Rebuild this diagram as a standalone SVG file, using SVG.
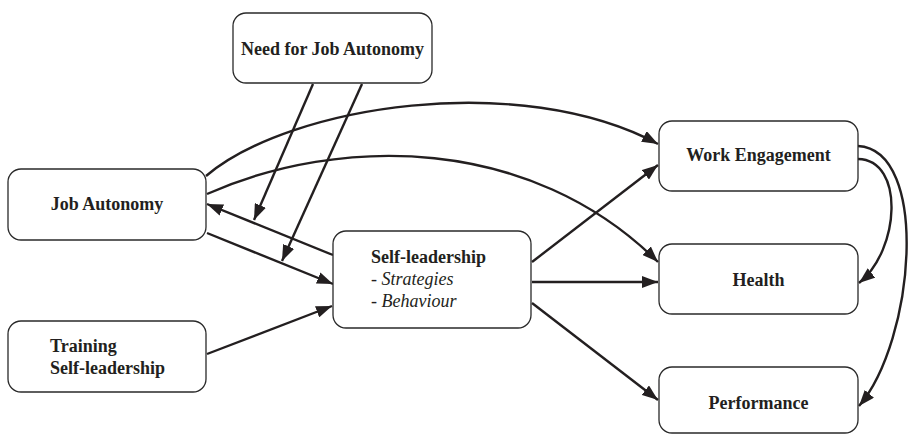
<svg xmlns="http://www.w3.org/2000/svg" width="912" height="435" viewBox="0 0 912 435">
  <style>
    .box { fill: #ffffff; stroke: #2a2a2a; stroke-width: 1.3; }
    .lbl { font-family: "Liberation Serif", "Times New Roman", serif; font-size: 18px; font-weight: bold; fill: #231f20; }
    .it { font-family: "Liberation Serif", "Times New Roman", serif; font-size: 18px; font-style: italic; fill: #231f20; }
    .edge { fill: none; stroke: #231f20; stroke-width: 2.4; marker-end: url(#head); }
  </style>
  <defs>
    <marker id="head" markerUnits="userSpaceOnUse" markerWidth="16" markerHeight="12" refX="16" refY="6" orient="auto">
      <path d="M0,0 L16,6 L0,12 z" fill="#231f20"/>
    </marker>
  </defs>
  <rect width="912" height="435" fill="#ffffff"/>

  <g id="connectors">
    <!-- moderator arrows -->
    <path class="edge" d="M313,84 L254,220"/>
    <path class="edge" d="M362,84 L282,261"/>
    <!-- job autonomy <-> self-leadership -->
    <path class="edge" d="M333,255 L207,204"/>
    <path class="edge" d="M207,233 L333,284"/>
    <!-- training -> self-leadership -->
    <path class="edge" d="M207,354 L332,306"/>
    <!-- job autonomy -> outcomes -->
    <path class="edge" d="M206,176 C290,105 520,70 658,144"/>
    <path class="edge" d="M207,194 C340,135 530,135 658,262"/>
    <!-- self-leadership -> outcomes -->
    <path class="edge" d="M532,262 L658,165"/>
    <path class="edge" d="M532,282 L658,282"/>
    <path class="edge" d="M532,303 L658,400"/>
    <!-- work engagement -> health, performance -->
    <path class="edge" d="M858,159 C905,160 900,250 859,283"/>
    <path class="edge" d="M858,146 C930,150 915,340 859,406"/>
  </g>

  <g id="need-autonomy">
    <rect class="box" x="233" y="13" width="199" height="70" rx="13"/>
    <text class="lbl" x="332.5" y="55" text-anchor="middle">Need for Job Autonomy</text>
  </g>
  <g id="job-autonomy">
    <rect class="box" x="8" y="169" width="198" height="71" rx="13"/>
    <text class="lbl" x="107" y="210" text-anchor="middle">Job Autonomy</text>
  </g>
  <g id="training">
    <rect class="box" x="8" y="321" width="198" height="71" rx="13"/>
    <text class="lbl" x="50" y="352">Training</text>
    <text class="lbl" x="50" y="374">Self-leadership</text>
  </g>
  <g id="self-leadership">
    <rect class="box" x="333" y="231" width="198" height="97" rx="13"/>
    <text class="lbl" x="371" y="263">Self-leadership</text>
    <text class="it" x="371" y="285">- Strategies</text>
    <text class="it" x="371" y="307">- Behaviour</text>
  </g>
  <g id="work-engagement">
    <rect class="box" x="659" y="121" width="199" height="70" rx="13"/>
    <text class="lbl" x="758.5" y="161" text-anchor="middle">Work Engagement</text>
  </g>
  <g id="health">
    <rect class="box" x="659" y="244" width="199" height="70" rx="13"/>
    <text class="lbl" x="758.5" y="286" text-anchor="middle">Health</text>
  </g>
  <g id="performance">
    <rect class="box" x="659" y="367" width="199" height="66" rx="13"/>
    <text class="lbl" x="758.5" y="409" text-anchor="middle">Performance</text>
  </g>
</svg>
